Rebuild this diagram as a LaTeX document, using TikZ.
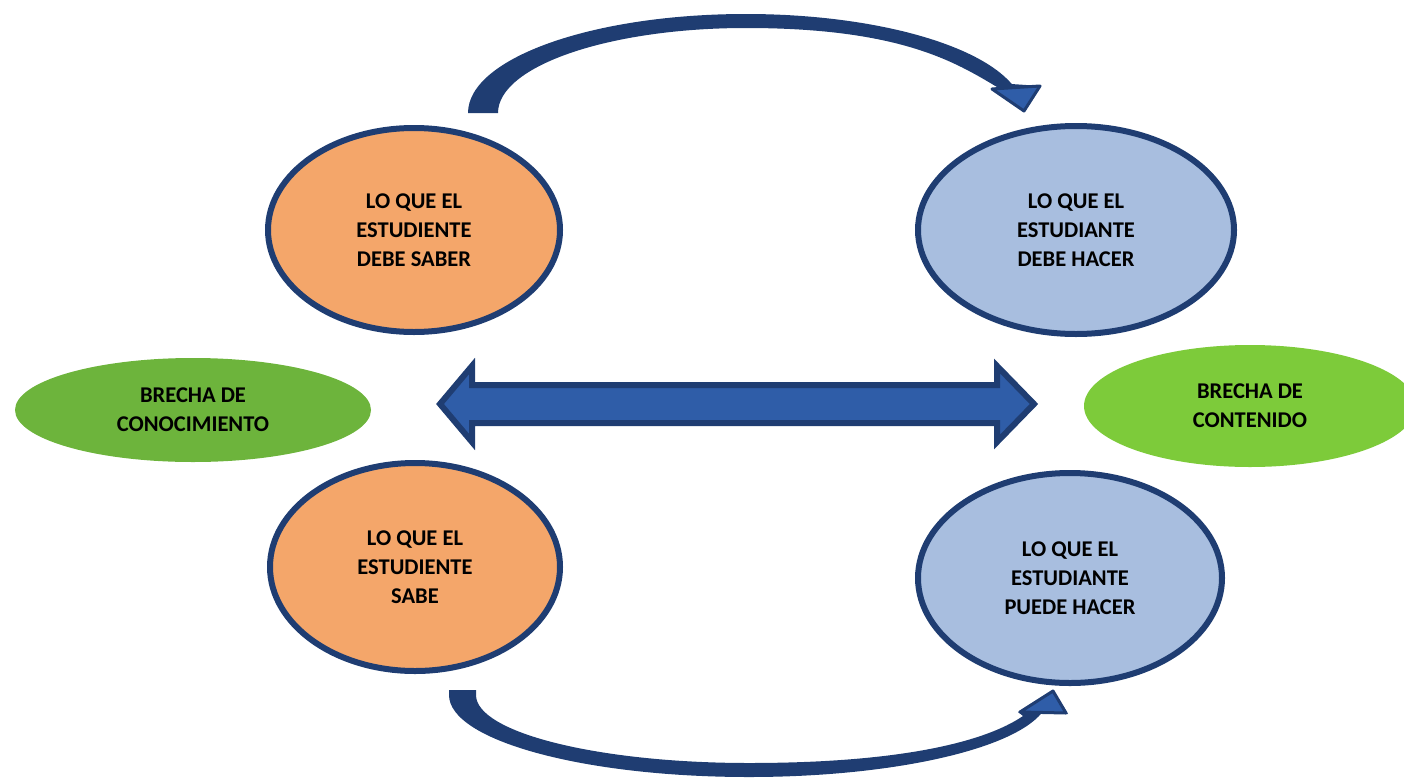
\documentclass[tikz,border=0pt]{standalone}
\usepackage{fontspec}
\setmainfont{Carlito}
\usetikzlibrary{shapes.geometric}
\definecolor{navy}{HTML}{1F3D72}
\definecolor{midblue}{HTML}{2F5DA8}
\definecolor{peach}{HTML}{F4A66A}
\definecolor{sky}{HTML}{A8BEDF}
\definecolor{leafdark}{HTML}{6DB43C}
\definecolor{leaflight}{HTML}{7DCB3A}
\begin{document}
\begin{tikzpicture}[x=1pt,y=-1pt,
  txt/.style={font=\fontsize{22.5}{29}\selectfont\bfseries, align=center, text=black},
  bubble/.style={ellipse, draw=navy, line width=6pt, inner sep=0pt, txt},
  gapbubble/.style={ellipse, draw=none, inner sep=0pt, txt},
  curvebody/.style={fill=navy},
  tiphead/.style={fill=midblue, draw=navy, line width=3pt, line join=round}]
\useasboundingbox (0,0) rectangle (1404,779);

% the four statements
\node[bubble, fill=peach, minimum width=292pt, minimum height=204pt] (saber) at (414,230)
  {LO QUE EL\\ESTUDIENTE\\DEBE SABER};
\node[bubble, fill=sky, minimum width=316pt, minimum height=208pt] (hacer) at (1076,230)
  {LO QUE EL\\ESTUDIANTE\\DEBE HACER};
\node[bubble, fill=peach, minimum width=290pt, minimum height=208pt] (sabe) at (415,567)
  {LO QUE EL\\ESTUDIENTE\\SABE};
\node[bubble, fill=sky, minimum width=304pt, minimum height=210pt] (puede) at (1070,578)
  {LO QUE EL\\ESTUDIANTE\\PUEDE HACER};

% the two gaps
\node[gapbubble, fill=leafdark, minimum width=356pt, minimum height=104pt] (conoc) at (193,410)
  {BRECHA DE\\CONOCIMIENTO};
\node[gapbubble, fill=leaflight, minimum width=332pt, minimum height=122pt] (conten) at (1250,406)
  {BRECHA DE\\CONTENIDO};

% double arrow between the columns
\filldraw[fill=midblue, draw=navy, line width=6pt, line join=miter]
  (440,404) -- (472,366) -- (472,385) -- (997,385) -- (997,366) -- (1034,404)
  -- (997,442) -- (997,423) -- (472,423) -- (472,442) -- cycle;

% upper curved arrow: saber -> hacer
\fill[curvebody] (468,113) arc[start angle=180, end angle=343, x radius=278, y radius=99]
  -- (1041,86) -- (1024,112) -- (991,89) -- (997,87)
  .. controls (955,62) and (900,28) .. (746,28)
  arc[start angle=270, end angle=180, x radius=248, y radius=85] -- cycle;
\filldraw[tiphead] (1040,86) -- (1024,111) -- (992,89) -- cycle;

% lower curved arrow: sabe -> puede
\fill[curvebody] (449,690) -- (449,695) arc[start angle=180, end angle=13, x radius=300, y radius=82]
  -- (1068,714) -- (1053,690) -- (1018,712) -- (1023,716)
  .. controls (985,742) and (900,763) .. (749,763)
  arc[start angle=90, end angle=180, x radius=273, y radius=68] -- (476,690) -- cycle;
\filldraw[tiphead] (1066,713) -- (1053,691) -- (1020,712) -- cycle;
\end{tikzpicture}
\end{document}
